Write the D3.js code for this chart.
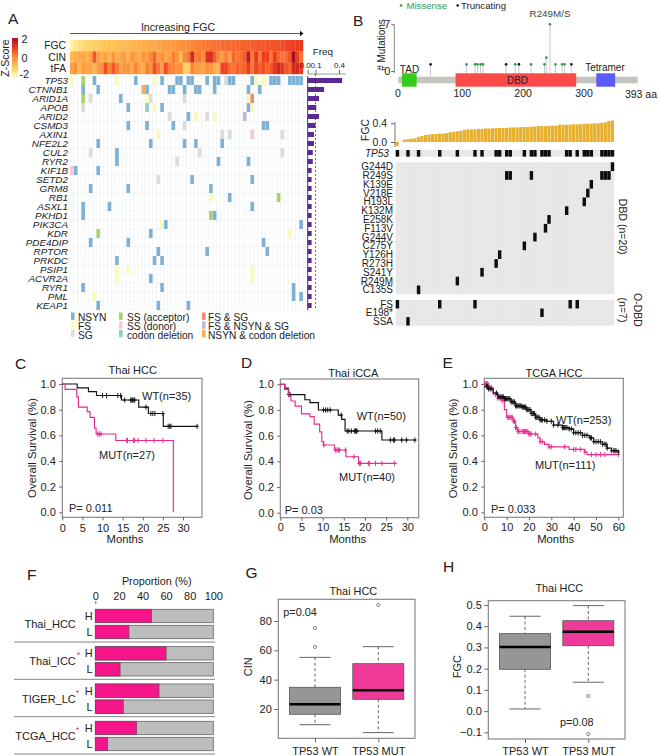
<!DOCTYPE html>
<html><head><meta charset="utf-8">
<script src="https://cdn.jsdelivr.net/npm/d3@7"></script>
<style>
html,body{margin:0;padding:0;background:#fff}
svg{display:block}
text{font-family:"Liberation Sans",Arial,sans-serif;fill:#222}
</style></head><body>
<svg id="chart" width="658" height="756"></svg>
<script>
// ---------- Panel A data ----------
const genes=["TP53","CTNNB1","ARID1A","APOB","ARID2","CSMD3","AXIN1","NFE2L2","CUL2","RYR2","KIF1B","SETD2","GRM8","RB1","ASXL1","PKHD1","PIK3CA","KDR","PDE4DIP","RPTOR","PRKDC","PSIP1","ACVR2A","RYR1","PML","KEAP1"];
const geneFreq=[0.44,0.21,0.145,0.11,0.145,0.1,0.08,0.08,0.065,0.065,0.05,0.05,0.05,0.05,0.05,0.05,0.05,0.05,0.05,0.05,0.05,0.05,0.05,0.05,0.05,0.05];
// each entry: mutation type + sample column
const geneCells=[
["F0","A3","N6","F12","N17","F22","N24","N28","N29","N31","N32","N36","N38","N39","G41","N42","N43","N48","F49","F51","N53","N54","N55","N58","N59","N60","N61"],
["N3","N7","Z19","N20","N26","N27","N30","N33","N34","N38","N47","N50"],
["A3","G5","N13","F20","G21","G30","F47","X48"],
["G3","N15","C20","F22","N24","N47","F48"],
["G26","N31","F33","G36","F38","Y46"],
["N15","N20","N27","G30","N51","N52"],
["F23","G40","G42","D48","G56"],
["N7","N21","N30","N33","N40"],
["G5","N12","G34","G56"],
["N12","G28","N39","N47"],
["D0","N1","N7"],
["G23","N32","N48"],
["N5","N15","N37"],
["F37","N42","A55"],
["N3","N10","N48"],
["N3","A37","N38"],
["F24","N25","N61"],
["A7","N21","F58"],
["N5","N15","N51"],
["N23","N36","N52"],
["N12","N22","N24"],
["F12","F15","F48"],
["F12","N21","F48"],
["N3","N24","N59"],
["F6","N59","N61"],
["N7","N23","N31"]];
const mutationTypes=["N","F","G","A","D","C","X","Y","Z"];
const mutationColors=["#7fb0d6","#fbfbb6","#dcdcdc","#a8d267","#f9c6de","#8cd2be","#ef8a76","#bdb9dc","#f6ad60"];
const mutationNames=["NSYN","FS","SG","SS (acceptor)","SS (donor)","codon deletion","FS & SG","FS & NSYN & SG","NSYN & codon deletion"];
const heatRows=["FGC","CIN","tFA"];
const heatFGC=[-1.75,-1.55,-1.4,-1.3,-1.2,-1.1,-1.05,-1,-0.95,-0.9,-0.85,-0.85,-0.8,-0.75,-0.7,-0.65,-0.65,-0.6,-0.55,-0.5,-0.5,-0.45,-0.4,-0.35,-0.3,-0.25,-0.2,-0.15,-0.1,-0.05,0,0.05,0.1,0.15,0.2,0.25,0.3,0.3,0.35,0.35,0.4,0.4,0.45,0.45,0.5,0.5,0.55,0.55,0.6,0.6,0.65,0.65,0.7,0.7,0.75,0.75,0.8,0.85,0.9,0.95,1,1.05];
const heatCIN=[-0.7,-0.5,-0.4,-0.4,-0.6,-0.3,0.7,-0.2,-0.5,-0.3,-0.6,-0.1,-0.5,-0.4,-0.2,-0.6,-0.1,-0.3,-0.5,-0.1,-0.3,0.1,0.5,-0.2,0,-0.4,-0.3,0.2,-0.1,-0.8,0.1,0.3,1.4,0.2,0.3,0,1.2,1.3,0.6,0.1,-0.2,0.2,-0.3,0.5,0.3,0.4,0.6,1.7,0.3,1.1,0.2,1,1,0.3,1,0.5,0.3,0.4,0.7,2,1,0.3];
const heatTFA=[-0.3,0,-0.7,-0.2,-0.4,-0.3,-0.6,-0.2,0,0.8,0.1,0.7,0.2,-0.3,-0.1,0,-0.4,0.1,-0.3,-0.5,0.2,-0.1,0.8,0.3,-0.2,0.8,0.2,0.1,-0.1,0,-1.1,-1.1,0.1,-0.2,-0.2,-0.3,0,-0.2,-0.5,-0.6,0.9,0.9,0.4,0.3,0.6,0.4,0.5,1,0.3,0.9,0.6,0.8,0.5,0.7,1.1,1.4,1.1,0.7,0.5,1.4,1.4,1];
const zStops=[-2,-1,0,1,2];
const zColors=["#ffffb6","#fecb5c","#fd8f3c","#ee3b20","#a80f24"];
const freqTicks=[0,0.1,0.4];

// ---------- Panel B data ----------
const missensePos=[112,126,130,135,139,192,218,240,243,249,258,269,273];
const missenseCount=[1,1,1,1,1,1,1,1,2,7,1,1,1];
const truncPos=[53,177,198,284];
const truncCount=[1,1,1,1];
const domainNames=["TAD","DBD","Tetramer"];
const domainStart=[6,94,325];
const domainEnd=[30,292,356];
const domainColors=["#33cc19","#fb4a4a","#5b5bf5"];
const proteinTicks=[0,100,200,300];
const fgcBars=[-0.08,0,0.05,0.06,0.07,0.08,0.11,0.13,0.15,0.16,0.17,0.17,0.18,0.18,0.19,0.21,0.22,0.23,0.24,0.26,0.27,0.27,0.27,0.28,0.28,0.29,0.29,0.29,0.3,0.3,0.3,0.3,0.31,0.31,0.31,0.32,0.32,0.32,0.33,0.33,0.34,0.34,0.34,0.35,0.35,0.35,0.37,0.37,0.37,0.37,0.38,0.38,0.38,0.39,0.39,0.39,0.4,0.4,0.41,0.42,0.45,0.46];
const dbdRows=["G244D","R249S","K139E","V218E","H193L","K132M","E258K","F113V","G244V","C275Y","Y126H","R273H","S241Y","R249M","C135S"];
const dbdCols=[[61],[31,32,38,58,59,60],[55],[54],[53],[48],[43],[42],[39],[36],[29],[28],[24],[17],[6]];
const odbdRows=["FS","E198*","SSA"];
const odbdCols=[[0,12,22,49,51],[41],[3]];
const tp53Cols=[0,3,6,12,17,22,24,28,29,31,32,36,38,39,41,42,43,48,49,51,53,54,55,58,59,60,61];

// ---------- Panels C, D, E data ----------
const survTicks=[0,0.2,0.4,0.6,0.8,1];
const cWtT=[0,3.7,6.5,8.5,14.7,19,21.4,25.1,33.5];
const cWtS=[1,0.97,0.94,0.91,0.875,0.82,0.77,0.67,0.67];
const cWtCens=[10,11,13.8,14.5,15.5,17,17.3,17.5,17.8,18,20.8,22,22.5,23,25,26.3,26.7,27,33.5];
const cMutT=[0,0.7,3.6,4,6.2,6.9,8,8.4,13.3,27.6,27.6];
const cMutS=[1,0.958,0.9,0.82,0.785,0.74,0.655,0.61,0.56,0,0];
const cMutCens=[8.8,9.2,9.6,16,16.2,17.7,18,18.8,20.8,22.8,25];
const dWtT=[0,1.1,1.9,5.8,7,9,13.7,14.5,15.3,24,32];
const dWtS=[1,0.97,0.92,0.88,0.857,0.8,0.76,0.727,0.636,0.566,0.566];
const dWtCens=[2,2.3,10.2,10.7,11.2,11.8,14.4,15.8,16.2,16.8,17.5,17.8,18,18.1,22.5,23,23.6,26,26.7,27,28.7,29.8,31.8];
const dMutT=[0,1,2,2.5,3.5,5,7,8,9.3,9.8,10.2,12.8,15.5,18.5,27.5];
const dMutS=[1,0.96,0.91,0.87,0.83,0.77,0.748,0.69,0.63,0.553,0.527,0.488,0.436,0.384,0.384];
const dMutCens=[10.3,13,13.4,13.7,14,15.4,17.4,18.6,18.8,19,20.8,21,22.5,24,27];
const eWtT=[0,2,4,6,9,12,14,17,19,21,23,25,28,31,35,38,40,44,47,49,53,55,57,60];
const eWtS=[0.98,0.96,0.93,0.9,0.885,0.86,0.83,0.82,0.8,0.77,0.74,0.72,0.71,0.68,0.66,0.65,0.62,0.6,0.58,0.55,0.53,0.5,0.48,0.47];
const eWtCens=[1,1.5,2,3,5.5,6.5,7,7.5,8,8.5,9,9.5,10,10.5,11,11.5,12,12.5,13,13.5,14,14.5,15,15.5,16,16.5,17,17.5,18,18.5,19,19.5,20,20.5,21,21.5,22,22.5,23,23.5,24,24.5,25,25.5,26,27,28,30,31,33,35,35.5,36,36.5,37,38,39,40,41,42,43,44,45,46,47.5,48,49,50,51,52,53,54,54.5,55,57,58,58.5,59,60];
const eMutT=[0,2,4,6,8,9,10,13,14,15,20,24,25,27,29,36,38,45,46,60];
const eMutS=[1,0.97,0.92,0.89,0.87,0.8,0.74,0.71,0.66,0.63,0.61,0.58,0.55,0.53,0.51,0.51,0.49,0.47,0.45,0.45];
const eMutCens=[0.3,0.6,1,1.3,1.6,2,2.5,3,3.3,5,6,7,8,10.5,11,11.5,12,12.5,13,13.5,14,14.5,15,15.5,16,17,17.5,18,18.5,19,19.5,20,20.5,21,23,25,26,29,30,36,40,41,43,45,48,50,52,54,60];

// ---------- Panel F data ----------
const propGroups=["Thai_HCC","Thai_ICC","TIGER_LC","TCGA_HCC"];
const propHigh=[47.7,60,54,35];
const propLow=[28.5,21,23.7,10.5];
const propStar=[false,true,true,true];
const propTicks=[0,20,40,60,80,100];

// ---------- Panels G, H data ----------
const boxCats=["TP53 WT","TP53 MUT"];
const gLow=[9.3,3.9], gQ1=[16.4,26.6], gMed=[23.2,32.7], gQ3=[34.8,50.9], gHigh=[55.2,62.5];
const gOut=[[62.3,75.2],[90.9]];
const gTicks=[20,40,60,80];
const hLow=[0.01,0.136], hQ1=[0.197,0.308], hMed=[0.302,0.374], hQ3=[0.365,0.426], hHigh=[0.447,0.497];
const hOut=[[],[0.071,-0.108]];
const hTicks=[-0.1,0,0.1,0.2,0.3,0.4,0.5];

// ---------- helpers ----------
const svg=d3.select("#chart");
const PINK="#ea2a94", AX="#7f7f7f";
function txt(x,y,s,o={}){
  const t=svg.append("text").attr("x",x).attr("y",y).attr("dy","0.35em")
    .attr("text-anchor",o.anchor||"start").attr("font-size",o.size||11).text(s);
  if(o.italic)t.attr("font-style","italic");
  if(o.fill)t.style("fill",o.fill);
  if(o.rot!==undefined)t.attr("transform",`rotate(${o.rot},${x},${y})`);
  return t;
}
function styleAxis(g,size){
  g.selectAll("text").attr("font-size",size||11).style("fill","#222");
  g.selectAll("line").attr("stroke","#666");
  g.select(".domain").remove();
}
// letters
[["A",8,19],["B",353,20.5],["C",15,364],["D",241,362.5],["E",442.5,362.5],["F",27,575],["G",245.5,572.5],["H",443,566.5]]
 .forEach(d=>txt(d[1],d[2],d[0],{size:15.5}));

// ---------- Panel A ----------
const colX=d3.scaleBand().domain(d3.range(62)).range([70,303]);
const zColor=d3.scaleLinear().domain(zStops).range(zColors);
const heatY=d3.scaleBand().domain(heatRows).range([40,74]);
[heatFGC,heatCIN,heatTFA].forEach((vals,i)=>{
  svg.append("g").selectAll("rect").data(vals).join("rect")
    .attr("x",(d,c)=>colX(c)).attr("y",heatY(heatRows[i]))
    .attr("width",colX.bandwidth()+0.25).attr("height",heatY.bandwidth()+0.2)
    .attr("fill",d=>zColor(d));
  txt(66,heatY(heatRows[i])+heatY.bandwidth()/2,heatRows[i],{anchor:"end",size:10.3});
});
txt(178,27,"Increasing FGC",{anchor:"middle",size:10.6});
svg.append("line").attr("x1",70).attr("x2",300).attr("y1",33.5).attr("y2",33.5).attr("stroke","#333").attr("stroke-width",0.8);
svg.append("path").attr("d",d3.line()([[300,30.8],[303.5,33.5],[300,36.2]])+"Z").attr("fill","#111");
// z legend
const defs=svg.append("defs");
const grad=defs.append("linearGradient").attr("id","zgrad").attr("x1",0).attr("x2",0).attr("y1",1).attr("y2",0);
zStops.forEach((z,i)=>grad.append("stop").attr("offset",i/(zStops.length-1)).attr("stop-color",zColors[i]));
svg.append("rect").attr("x",12).attr("y",38).attr("width",6).attr("height",39).attr("fill","url(#zgrad)");
txt(21.5,39,"2",{size:10.8});txt(21.5,58.7,"0",{size:10.8});txt(19.5,74.3,"-2",{size:10.8});
txt(5.5,58,"Z-Score",{anchor:"middle",size:10.5,rot:-90});
// oncoprint
const geneY=d3.scaleBand().domain(genes).range([76,310]);
const gridG=svg.append("g").attr("stroke","#ecf0f4").attr("stroke-width",0.7);
d3.range(63).forEach(c=>gridG.append("line").attr("x1",70+c*colX.step()).attr("x2",70+c*colX.step()).attr("y1",76).attr("y2",310));
d3.range(27).forEach(r=>gridG.append("line").attr("x1",70).attr("x2",303).attr("y1",76+r*geneY.step()).attr("y2",76+r*geneY.step()));
genes.forEach((g,i)=>{
  txt(68,geneY(g)+geneY.bandwidth()/2,g,{anchor:"end",italic:true,size:9.9});
  svg.append("g").selectAll("rect").data(geneCells[i]).join("rect")
    .attr("x",d=>colX(+d.slice(1))+0.1).attr("y",geneY(g))
    .attr("width",colX.bandwidth()-0.2).attr("height",geneY.bandwidth())
    .attr("fill",d=>mutationColors[mutationTypes.indexOf(d[0])]);
});
// oncoprint legend
const legX=[[71,78],[119,127],[202,208]], legY=[316.3,325.2,333.7];
mutationNames.forEach((n,i)=>{
  const col=Math.floor(i/3), row=i%3;
  svg.append("rect").attr("x",legX[col][0]).attr("y",legY[row]-3.8).attr("width",3.6).attr("height",7.4).attr("fill",mutationColors[i]);
  txt(legX[col][1],legY[row]+1.3,n,{size:10.2});
});
// frequency
const freqX=d3.scaleLinear().domain([0,0.486]).range([307.7,345.7]);
const freqAxis=svg.append("g").attr("transform","translate(0,74)")
  .call(d3.axisTop(freqX).tickValues(freqTicks).tickSize(4).tickPadding(2).tickFormat(d3.format(".1f")));
styleAxis(freqAxis,8);
freqAxis.selectAll("text").attr("dx",d=>d===0?-3:0);
svg.append("line").attr("x1",307.7).attr("x2",345.7).attr("y1",74).attr("y2",74).attr("stroke","#999");
svg.append("line").attr("x1",freqX(0.1)).attr("x2",freqX(0.1)).attr("y1",74).attr("y2",310).attr("stroke","#333").attr("stroke-width",0.7).attr("stroke-dasharray","2,2");
svg.append("g").selectAll("rect").data(geneFreq).join("rect")
  .attr("x",freqX(0)).attr("y",(d,i)=>geneY(genes[i])+2)
  .attr("width",d=>freqX(d)-freqX(0)).attr("height",geneY.bandwidth()-4).attr("fill","#5b2a91");
svg.append("line").attr("x1",307.7).attr("x2",307.7).attr("y1",76).attr("y2",310).attr("stroke","#5b2a91").attr("stroke-width",1);
txt(312.7,51.7,"Freq",{size:9.8});

// ---------- Panel B lollipop ----------
const aaX=d3.scaleLinear().domain([0,393]).range([398.3,637.7]);
const mutY=d3.scaleLinear().domain([0,7]).range([71,24.3]);
const protAxis=svg.append("g").attr("transform","translate(0,90)")
  .call(d3.axisBottom(aaX).tickValues(proteinTicks).tickSize(0).tickPadding(0));
styleAxis(protAxis,10.5);
protAxis.selectAll("text").attr("dx",d=>d?2.5:-1);
txt(657,94.5,"393 aa",{anchor:"end",size:10.5});
const yMut=svg.append("g").attr("transform","translate(394.3,0)")
  .call(d3.axisLeft(mutY).tickValues([0,7]).tickSize(3).tickPadding(1).tickFormat(d3.format("d")));
styleAxis(yMut,11);
svg.append("line").attr("x1",394.3).attr("x2",394.3).attr("y1",24.3).attr("y2",73).attr("stroke","#888");
txt(381,45,"# Mutations",{anchor:"middle",size:10,rot:-90});
[[missensePos,missenseCount,"#2e9a4c"],[truncPos,truncCount,"#111"]].forEach(([p,c,col])=>{
  svg.append("g").selectAll("line").data(p).join("line")
    .attr("x1",d=>aaX(d)).attr("x2",d=>aaX(d)).attr("y1",(d,i)=>mutY(c[i])).attr("y2",76)
    .attr("stroke","#bbb").attr("stroke-width",0.8);
  svg.append("g").selectAll("circle").data(p).join("circle")
    .attr("cx",d=>aaX(d)).attr("cy",(d,i)=>mutY(c[i])).attr("r",1.3).attr("fill",col);
});
svg.append("rect").attr("x",aaX(0)).attr("y",76.7).attr("width",aaX(393)-aaX(0)).attr("height",6.6).attr("fill","#c2c4bd");
domainNames.forEach((n,i)=>{
  svg.append("rect").attr("x",aaX(domainStart[i])).attr("y",73.3).attr("width",aaX(domainEnd[i])-aaX(domainStart[i])).attr("height",13.4).attr("fill",domainColors[i]);
});
txt(409.5,69,"TAD",{anchor:"middle",size:10});
txt(517.5,80,"DBD",{anchor:"middle",size:10});
txt(605,67.5,"Tetramer",{anchor:"middle",size:10});
txt(550,14,"R249M/S",{anchor:"middle",size:9.8,fill:"#444"});
svg.append("circle").attr("cx",401).attr("cy",5.5).attr("r",1.3).attr("fill","#2e9a4c");
txt(406.5,5.5,"Missense",{size:9.6,fill:"#2e9e62"});
svg.append("circle").attr("cx",457.7).attr("cy",5.5).attr("r",1.3).attr("fill","#111");
txt(461,5.5,"Truncating",{size:9.6});

// ---------- Panel B mutation matrix ----------
const bColX=d3.scaleBand().domain(d3.range(62)).range([395.7,614.3]);
const fgcY=d3.scaleLinear().domain([0,0.4]).range([142,123.3]);
svg.append("g").selectAll("rect").data(fgcBars).join("rect")
  .attr("x",(d,i)=>bColX(i)).attr("y",d=>Math.min(fgcY(d),fgcY(0)))
  .attr("width",bColX.bandwidth()-0.35).attr("height",d=>Math.abs(fgcY(d)-fgcY(0)))
  .attr("fill","#e6b02c");
const fgcAxis=svg.append("g").attr("transform","translate(395,0)")
  .call(d3.axisLeft(fgcY).tickValues([0,0.4]).tickSize(4).tickPadding(4).tickFormat(d3.format(".1f")));
styleAxis(fgcAxis,10.5);
svg.append("line").attr("x1",395).attr("x2",395).attr("y1",122).attr("y2",147).attr("stroke","#777");
txt(365,130,"FGC",{anchor:"middle",size:10.3,rot:-90});
function matrix(rows,cols,y0,step,right,italic){
  svg.append("rect").attr("x",395.7).attr("y",y0).attr("width",218.6).attr("height",rows.length*step).attr("fill","#e7e7e7");
  const y=d3.scaleBand().domain(rows).range([y0,y0+rows.length*step]);
  const gl=svg.append("g").attr("stroke","#ededed").attr("stroke-width",0.4);
  d3.range(1,62).forEach(c=>gl.append("line").attr("x1",bColX(c)).attr("x2",bColX(c)).attr("y1",y0).attr("y2",y0+rows.length*step));
  rows.forEach((r,i)=>{
    txt(right,y(r)+step/2,r,{anchor:"end",size:10,italic});
    svg.append("g").selectAll("rect").data(cols[i]).join("rect")
      .attr("x",d=>bColX(d)).attr("y",y(r)).attr("width",bColX.bandwidth()-0.1).attr("height",step-0.1).attr("fill","#0d0d0d");
  });
}
matrix(["TP53"],[tp53Cols],150,6.7,388.8,true);
matrix(dbdRows,dbdCols,162.3,8.8,393,false);
matrix(odbdRows,odbdCols,300,8.55,393,false);
txt(623,226.7,"DBD (n=20)",{anchor:"middle",size:10.5,rot:90});
txt(623,310,"(n=7)",{anchor:"middle",size:10.5,rot:90});
txt(637.5,310,"O-DBD",{anchor:"middle",size:10.5,rot:90});

// ---------- Survival panels ----------
function survival(c){
  const [x0,x1,y0,y1]=c.box;
  svg.append("rect").attr("x",x0).attr("y",y0).attr("width",x1-x0).attr("height",y1-y0).attr("fill","none").attr("stroke",AX).attr("stroke-width",1.1);
  const x=d3.scaleLinear().domain([0,c.xRef]).range([x0,c.xRefPx]);
  const y=d3.scaleLinear().domain([0,1]).range(c.yRange);
  const gx=svg.append("g").attr("transform",`translate(0,${y1})`).call(d3.axisBottom(x).tickValues(c.xTicks).tickSize(3).tickPadding(c.xPad));
  styleAxis(gx,11);
  const gy=svg.append("g").attr("transform",`translate(${x0},0)`).call(d3.axisLeft(y).tickValues(survTicks).tickSize(3).tickPadding(3.5).tickFormat(d3.format(".1f")));
  styleAxis(gy,11);
  const line=d3.line().curve(d3.curveStepAfter);
  c.series.forEach(s=>{
    svg.append("path").attr("d",line(s.t.map((t,i)=>[x(t),y(s.s[i])]))).attr("fill","none").attr("stroke",s.color).attr("stroke-width",1.15);
    const at=t=>s.s[Math.max(0,d3.bisectRight(s.t,t)-1)];
    const ticks=svg.append("g").attr("stroke",s.color).attr("stroke-width",0.95);
    s.cens.forEach(t=>{
      const px=x(t),py=y(at(t));
      ticks.append("line").attr("x1",px).attr("x2",px).attr("y1",py-2.6).attr("y2",py+2.6);
      ticks.append("line").attr("x1",px-1.8).attr("x2",px+1.8).attr("y1",py).attr("y2",py);
    });
  });
  txt(c.titleX,c.titleY,c.title,{anchor:"middle",size:11});
  txt(c.monthsX,c.monthsY,"Months",{anchor:"middle",size:11.3});
  txt(c.ylabX,c.ylabY,"Overall Survival (%)",{anchor:"middle",size:11.3,rot:-90});
  c.notes.forEach(n=>txt(n[1],n[2],n[0],{size:11}));
}
survival({box:[62.3,202,378.3,517.3],xRef:30,xRefPx:183,yRange:[512.3,384],xTicks:[0,5,10,15,20,25,30],xPad:3.5,
 series:[{t:cWtT,s:cWtS,cens:cWtCens,color:"#111"},{t:cMutT,s:cMutS,cens:cMutCens,color:PINK}],
 title:"Thai HCC",titleX:132.7,titleY:370,monthsX:125,monthsY:539,ylabX:31.7,ylabY:448,
 notes:[["WT(n=35)",142,396],["MUT(n=27)",99,455],["P= 0.011",69,508.5]]});
survival({box:[280.3,418.7,379,517.7],xRef:30,xRefPx:407.3,yRange:[512.7,384.3],xTicks:[0,5,10,15,20,25,30],xPad:3,
 series:[{t:dWtT,s:dWtS,cens:dWtCens,color:"#111"},{t:dMutT,s:dMutS,cens:dMutCens,color:PINK}],
 title:"Thai iCCA",titleX:353.3,titleY:372.7,monthsX:347.7,monthsY:538.7,ylabX:247.7,ylabY:450,
 notes:[["WT(n=50)",356.7,416.3],["MUT(n=40)",339,477.3],["P= 0.03",284.7,510]]});
survival({box:[484.3,623.3,378.3,517.3],xRef:60,xRefPx:618.3,yRange:[512.3,384],xTicks:[0,10,20,30,40,50,60],xPad:2.5,
 series:[{t:eMutT,s:eMutS,cens:eMutCens,color:PINK},{t:eWtT,s:eWtS,cens:eWtCens,color:"#111"}],
 title:"TCGA HCC",titleX:554,titleY:372.7,monthsX:555.7,monthsY:539.3,ylabX:453.3,ylabY:448.3,
 notes:[["WT(n=253)",556,420],["MUT(n=111)",535,465],["P= 0.033",491,509]]});

// ---------- Panel F ----------
const propX=d3.scaleLinear().domain([0,100]).range([95.3,213.3]);
const propY=d3.scalePoint().domain(propGroups).range([609.3,721.3]);
const pAxis=svg.append("g").attr("transform","translate(0,604)")
  .call(d3.axisTop(propX).tickValues(propTicks).tickSize(3).tickPadding(1.5));
styleAxis(pAxis,11);
pAxis.selectAll("line").attr("stroke",d=>d===0?"#666":"none");
txt(156.7,581.3,"Proportion (%)",{anchor:"middle",size:10.8});
propGroups.forEach((g,i)=>{
  [[propHigh[i],0,"H"],[propLow[i],16,"L"]].forEach(([v,off,lab])=>{
    const y=propY(g)+off;
    svg.append("rect").attr("x",propX(0)).attr("y",y).attr("width",propX(100)-propX(0)).attr("height",13.4).attr("fill","#bdbdbd").attr("stroke","#666").attr("stroke-width",0.8);
    svg.append("rect").attr("x",propX(0)).attr("y",y).attr("width",propX(v)-propX(0)).attr("height",13.4).attr("fill","#f5148a").attr("stroke","#66465a").attr("stroke-width",0.7);
    txt(92.7,y+6.7,lab,{anchor:"end",size:11});
  });
  txt(75.8,propY(g)+14.7,g,{anchor:"end",size:11});
  if(propStar[i])txt(75.8+(i===1?1:0),propY(g)+8.6,"*",{size:9,fill:"#e23a55"});
  svg.append("line").attr("x1",14).attr("x2",215).attr("y1",propY(g)+32.7).attr("y2",propY(g)+32.7).attr("stroke","#777").attr("stroke-width",0.9);
});

// ---------- Box plots ----------
function boxPanel(c){
  const [x0,x1,y0,y1]=c.box;
  svg.append("rect").attr("x",x0).attr("y",y0).attr("width",x1-x0).attr("height",y1-y0).attr("fill","none").attr("stroke",AX).attr("stroke-width",1.1);
  const x=d3.scalePoint().domain(boxCats).range(c.centers);
  const y=d3.scaleLinear().domain(c.refDomain).range(c.refRange);
  const gx=svg.append("g").attr("transform",`translate(0,${y1})`).call(d3.axisBottom(x).tickSize(4).tickPadding(4.5));
  styleAxis(gx,11);
  const gy=svg.append("g").attr("transform",`translate(${x0},0)`).call(d3.axisLeft(y).tickValues(c.ticks).tickSize(4).tickPadding(2.5).tickFormat(c.fmt));
  styleAxis(gy,11);
  boxCats.forEach((cat,i)=>{
    const cx=x(cat);
    const dashed=svg.append("g").attr("stroke","#555").attr("stroke-width",0.9);
    dashed.append("line").attr("x1",cx).attr("x2",cx).attr("y1",y(c.high[i])).attr("y2",y(c.q3[i])).attr("stroke-dasharray","3,2.4");
    dashed.append("line").attr("x1",cx).attr("x2",cx).attr("y1",y(c.q1[i])).attr("y2",y(c.low[i])).attr("stroke-dasharray","3,2.4");
    dashed.append("line").attr("x1",cx-15.5).attr("x2",cx+15.5).attr("y1",y(c.high[i])).attr("y2",y(c.high[i]));
    dashed.append("line").attr("x1",cx-15.5).attr("x2",cx+15.5).attr("y1",y(c.low[i])).attr("y2",y(c.low[i]));
    svg.append("rect").attr("x",cx-25.5).attr("y",y(c.q3[i])).attr("width",51).attr("height",y(c.q1[i])-y(c.q3[i])).attr("fill",c.colors[i]).attr("stroke","#555").attr("stroke-width",0.8);
    svg.append("line").attr("x1",cx-25.5).attr("x2",cx+25.5).attr("y1",y(c.med[i])).attr("y2",y(c.med[i])).attr("stroke","#000").attr("stroke-width",2.5);
    svg.append("g").selectAll("circle").data(c.out[i]).join("circle").attr("cx",cx).attr("cy",d=>y(d)).attr("r",1.6).attr("fill","#fff").attr("stroke","#555").attr("stroke-width",0.7);
  });
  txt(c.titleX,c.titleY,"Thai HCC",{anchor:"middle",size:10.9});
  txt(c.ylabX,c.ylabY,c.ylab,{anchor:"middle",size:11,rot:-90});
  txt(c.pX,c.pY,c.p,{size:10.9});
}
boxPanel({box:[278.3,415,599.3,738.3],centers:[315,378.3],refDomain:[20,80],refRange:[709,621],ticks:gTicks,fmt:d3.format("d"),
  low:gLow,q1:gQ1,med:gMed,q3:gQ3,high:gHigh,out:gOut,colors:["#969696","#ef3a99"],
  titleX:353.3,titleY:590.7,ylab:"CIN",ylabX:248.3,ylabY:666.7,p:"p=0.04",pX:283.3,pY:612.3});
boxPanel({box:[488.3,625,600.7,739],centers:[525,588.3],refDomain:[-0.1,0.5],refRange:[732.3,605],ticks:hTicks,fmt:d3.format(".1f"),
  low:hLow,q1:hQ1,med:hMed,q3:hQ3,high:hHigh,out:hOut,colors:["#969696","#ef3a99"],
  titleX:559.3,titleY:588.3,ylab:"FGC",ylabX:456.7,ylabY:666.7,p:"p=0.08",pX:560,pY:722.3});
</script>
</body></html>
